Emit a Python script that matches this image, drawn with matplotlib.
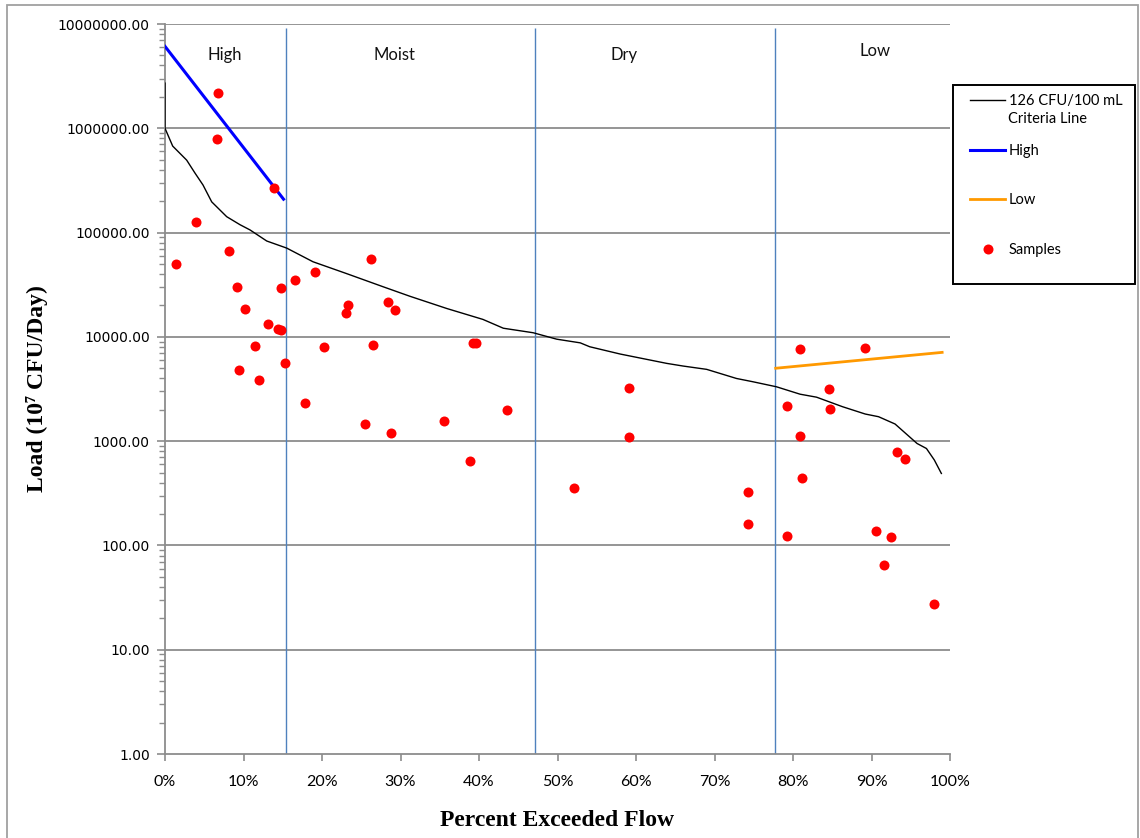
import numpy as np
import matplotlib.pyplot as plt
from matplotlib.patches import Rectangle
from matplotlib.ticker import FixedLocator, LogLocator, NullFormatter

# criteria line (126 CFU/100 mL) - percent exceeded flow vs load
crit_x = [0, 0, 0.98, 2.76, 3.82, 4.84, 5.95, 7.86, 9.55, 10.83, 12.96, 15.5, 18.85,
          23.1, 27.8, 31.2, 35.9, 40.5, 43.1, 46.9, 49.9, 52.9, 54.1, 58.0, 60.5,
          63.9, 66.0, 69.0, 72.8, 74.9, 77.9, 80.9, 83.0, 86.3, 89.2, 90.9, 93.0,
          95.8, 97.0, 98.0, 98.9]
crit_y = [2710000, 1000000, 675000, 495000, 372000, 286000, 197000, 142000, 119000,
          106000, 83000, 71000, 52500, 40500, 30200, 24500, 18700, 14700, 12100,
          10950, 9500, 8760, 8040, 6840, 6270, 5570, 5250, 4880, 3990, 3710, 3320,
          2820, 2640, 2140, 1820, 1715, 1460, 950, 850, 660, 490]

# regression lines for high and low flow zones
high_x = [0, 15.1]
high_y = [6100000, 209000]
low_x = [77.8, 99.0]
low_y = [5000, 7100]

# samples
samp_x = [1.4, 3.9, 6.75, 6.6, 8.15, 9.2, 10.2, 9.4, 11.5, 12.0, 13.1, 13.9, 14.4,
          14.8, 14.8, 15.3, 16.6, 17.8, 19.1, 20.3, 23.1, 23.3, 26.2, 26.5, 25.5,
          28.4, 29.3, 28.8, 35.5, 39.2, 39.6, 38.9, 43.6, 52.1, 59.1, 59.1, 74.3,
          74.3, 79.2, 79.2, 80.9, 80.9, 81.1, 84.6, 84.7, 89.2, 90.6, 91.6, 92.5,
          93.2, 94.3, 98.0]
samp_y = [50000, 126000, 2180000, 790000, 66000, 30000, 18500, 4800, 8100, 3850,
          13200, 267000, 12000, 11700, 29500, 5600, 35000, 2330, 42000, 8000, 17000,
          20000, 56000, 8300, 1450, 21700, 18000, 1200, 1560, 8700, 8700, 645, 1990,
          356, 3220, 1100, 325, 160, 2170, 123, 7600, 1120, 440, 3150, 2030, 7900,
          137, 65, 120, 790, 675, 27.4]

# flow zones
zone_bounds = [15.4, 47.1, 77.7]
zone_names = ['High', 'Moist', 'Dry', 'Low']
zone_label_x = [7.6, 29.2, 58.5, 90.4]
zone_label_y = [5.0e6, 5.0e6, 5.0e6, 5.5e6]

x_ticks = [0, 10, 20, 30, 40, 50, 60, 70, 80, 90, 100]
y_ticks = [1, 10, 100, 1000, 10000, 100000, 1000000, 10000000]

fig = plt.figure(figsize=(11.4, 8.38), dpi=100)
ax = fig.add_axes([165/1140, 1 - 754/838, 785/1140, 730/838])

grid_col = '#8c8c8c'
for v in y_ticks[1:]:
    ax.axhline(v, color=grid_col, lw=1.3, zorder=1)

ax.vlines(zone_bounds, 1, 9.1e6, color='#4f81bd', lw=1.0, zorder=2)

ax.plot(crit_x, crit_y, color='black', lw=1.0, zorder=3, label='126 CFU/100 mL')
ax.plot(high_x, high_y, color='#0000ff', lw=2.2, zorder=4, label='High')
ax.plot(low_x, low_y, color='#ff9900', lw=2.0, zorder=4, label='Low')
ax.plot(samp_x, samp_y, 'o', color='#ff0000', ms=7.2, mec='none', zorder=5,
        label='Samples')

for name, lx, ly in zip(zone_names, zone_label_x, zone_label_y):
    ax.text(lx, ly, name, ha='center', va='center', fontsize=12,
            family='Lato', color='#111111')

ax.set_yscale('log')
ax.set_xlim(0, 100)
ax.set_ylim(1, 10000000)

ax.set_xticks(x_ticks)
ax.set_xticklabels([f'{t}%' for t in x_ticks], family='Lato', fontsize=11.5)
ax.yaxis.set_major_locator(FixedLocator(y_ticks))
ax.set_yticklabels([f'{t:.2f}' for t in y_ticks], family='DejaVu Sans', fontsize=10)
ax.yaxis.set_minor_locator(LogLocator(base=10, subs=np.arange(2, 10)))
ax.yaxis.set_minor_formatter(NullFormatter())

ax.tick_params(axis='x', length=5, width=1.2, color=grid_col, pad=10)
ax.tick_params(axis='y', which='major', length=6, width=1.2, color=grid_col, pad=5)
ax.tick_params(axis='y', which='minor', length=4, width=1.0, color=grid_col)

for s in ['top', 'right']:
    ax.spines[s].set_visible(False)
for s in ['left', 'bottom']:
    ax.spines[s].set_color(grid_col)
    ax.spines[s].set_linewidth(1.3)

ax.set_xlabel('Percent Exceeded Flow', family='Liberation Serif', fontweight='bold',
              fontsize=17, labelpad=15)
ax.set_ylabel('Load (10\u2077 CFU/Day)', family=['Liberation Serif', 'DejaVu Serif'],
              fontweight='bold', fontsize=17, labelpad=7)

# legend: entries without frame, box drawn separately
leg = ax.legend(loc='upper left', bbox_to_anchor=(970/1140, 1 - 94/838),
                bbox_transform=fig.transFigure, frameon=False,
                prop={'family': 'Lato', 'size': 10.5},
                labelspacing=2.45, handlelength=2.4, handletextpad=0.25,
                borderpad=0, borderaxespad=0)
fig.text(1008/1140, 1 - 119/838, 'Criteria Line', family='Lato', fontsize=10.5,
         ha='left', va='center')
fig.patches.append(Rectangle((953/1140, 1 - 284/838), 182/1140, 199/838,
                             transform=fig.transFigure, fill=False,
                             edgecolor='black', lw=1.4))

fig.patches.append(Rectangle((7/1140, -0.01), 1131/1140, 1 - 5/838 + 0.01,
                             transform=fig.transFigure, fill=False,
                             edgecolor='#a0a0a0', lw=1.3))

fig.savefig('out.png', dpi=100)
